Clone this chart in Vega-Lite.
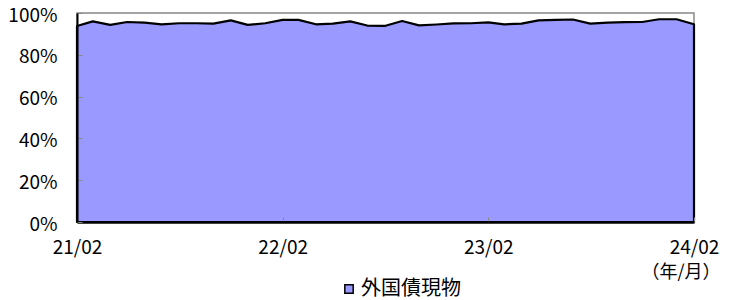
{
  "$schema": "https://vega.github.io/schema/vega-lite/v6.json",
  "width": 617,
  "height": 209,
  "autosize": {"type": "none"},
  "padding": {"left": 77, "top": 13, "right": 42, "bottom": 78},
  "background": "white",
  "config": {
    "view": {"stroke": "#888888", "strokeWidth": 1.5},
    "font": "Noto Sans CJK JP"
  },
  "data": {
    "values": [
      {"month": "2021-02-01", "value": 93.8, "series": "外国債現物"},
      {"month": "2021-03-01", "value": 96.0, "series": "外国債現物"},
      {"month": "2021-04-01", "value": 94.3, "series": "外国債現物"},
      {"month": "2021-05-01", "value": 95.7, "series": "外国債現物"},
      {"month": "2021-06-01", "value": 95.4, "series": "外国債現物"},
      {"month": "2021-07-01", "value": 94.6, "series": "外国債現物"},
      {"month": "2021-08-01", "value": 95.1, "series": "外国債現物"},
      {"month": "2021-09-01", "value": 95.1, "series": "外国債現物"},
      {"month": "2021-10-01", "value": 94.9, "series": "外国債現物"},
      {"month": "2021-11-01", "value": 96.5, "series": "外国債現物"},
      {"month": "2021-12-01", "value": 94.3, "series": "外国債現物"},
      {"month": "2022-01-01", "value": 95.1, "series": "外国債現物"},
      {"month": "2022-02-01", "value": 96.7, "series": "外国債現物"},
      {"month": "2022-03-01", "value": 96.7, "series": "外国債現物"},
      {"month": "2022-04-01", "value": 94.6, "series": "外国債現物"},
      {"month": "2022-05-01", "value": 94.9, "series": "外国債現物"},
      {"month": "2022-06-01", "value": 96.0, "series": "外国債現物"},
      {"month": "2022-07-01", "value": 94.0, "series": "外国債現物"},
      {"month": "2022-08-01", "value": 93.8, "series": "外国債現物"},
      {"month": "2022-09-01", "value": 96.2, "series": "外国債現物"},
      {"month": "2022-10-01", "value": 94.1, "series": "外国債現物"},
      {"month": "2022-11-01", "value": 94.5, "series": "外国債現物"},
      {"month": "2022-12-01", "value": 95.0, "series": "外国債現物"},
      {"month": "2023-01-01", "value": 95.1, "series": "外国債現物"},
      {"month": "2023-02-01", "value": 95.5, "series": "外国債現物"},
      {"month": "2023-03-01", "value": 94.6, "series": "外国債現物"},
      {"month": "2023-04-01", "value": 94.9, "series": "外国債現物"},
      {"month": "2023-05-01", "value": 96.5, "series": "外国債現物"},
      {"month": "2023-06-01", "value": 96.7, "series": "外国債現物"},
      {"month": "2023-07-01", "value": 96.9, "series": "外国債現物"},
      {"month": "2023-08-01", "value": 94.9, "series": "外国債現物"},
      {"month": "2023-09-01", "value": 95.4, "series": "外国債現物"},
      {"month": "2023-10-01", "value": 95.6, "series": "外国債現物"},
      {"month": "2023-11-01", "value": 95.7, "series": "外国債現物"},
      {"month": "2023-12-01", "value": 97.0, "series": "外国債現物"},
      {"month": "2024-01-01", "value": 97.0, "series": "外国債現物"},
      {"month": "2024-02-01", "value": 94.6, "series": "外国債現物"}
    ]
  },
  "mark": {"type": "area", "stroke": "black", "strokeWidth": 2.2, "strokeJoin": "round", "interpolate": "linear"},
  "encoding": {
    "x": {
      "field": "month",
      "type": "temporal",
      "scale": {
        "type": "utc",
        "domain": [
          {"year": 2021, "month": 2, "date": 1, "utc": true},
          {"year": 2024, "month": 2, "date": 1, "utc": true}
        ]
      },
      "axis": {
        "values": [
          {"year": 2021, "month": 2, "date": 1, "utc": true},
          {"year": 2022, "month": 2, "date": 1, "utc": true},
          {"year": 2023, "month": 2, "date": 1, "utc": true},
          {"year": 2024, "month": 2, "date": 1, "utc": true}
        ],
        "format": "%y/%m",
        "grid": false,
        "domainColor": "black",
        "domainWidth": 2.5,
        "tickColor": "#888888",
        "tickSize": -5,
        "labelFontSize": 19,
        "labelColor": "black",
        "labelPadding": 21,
        "labelFlush": false,
        "zindex": 1,
        "title": "（年/月）",
        "titleFontSize": 18,
        "titleFontWeight": "normal",
        "titleColor": "black",
        "titleAlign": "right",
        "titleAnchor": "end",
        "titleBaseline": "middle",
        "titleX": 643,
        "titleY": 50
      }
    },
    "y": {
      "field": "value",
      "type": "quantitative",
      "scale": {"domain": [0, 100]},
      "axis": {
        "values": [0, 20, 40, 60, 80, 100],
        "labelExpr": "datum.value + '%'",
        "grid": false,
        "domainColor": "black",
        "domainWidth": 2,
        "tickColor": "#888888",
        "tickSize": -5,
        "labelFontSize": 19,
        "labelColor": "black",
        "labelPadding": 25,
        "labelOffset": 2,
        "zindex": 1,
        "title": null
      }
    },
    "color": {
      "field": "series",
      "type": "nominal",
      "scale": {"range": ["#9999FF"]},
      "legend": {
        "title": null,
        "orient": "none",
        "legendX": 262,
        "legendY": 266,
        "padding": 0,
        "symbolType": "square",
        "symbolSize": 70,
        "symbolStrokeColor": "black",
        "symbolStrokeWidth": 1.5,
        "symbolFillColor": "#9999FF",
        "labelFontSize": 20,
        "labelColor": "black",
        "labelOffset": 2
      }
    }
  }
}
